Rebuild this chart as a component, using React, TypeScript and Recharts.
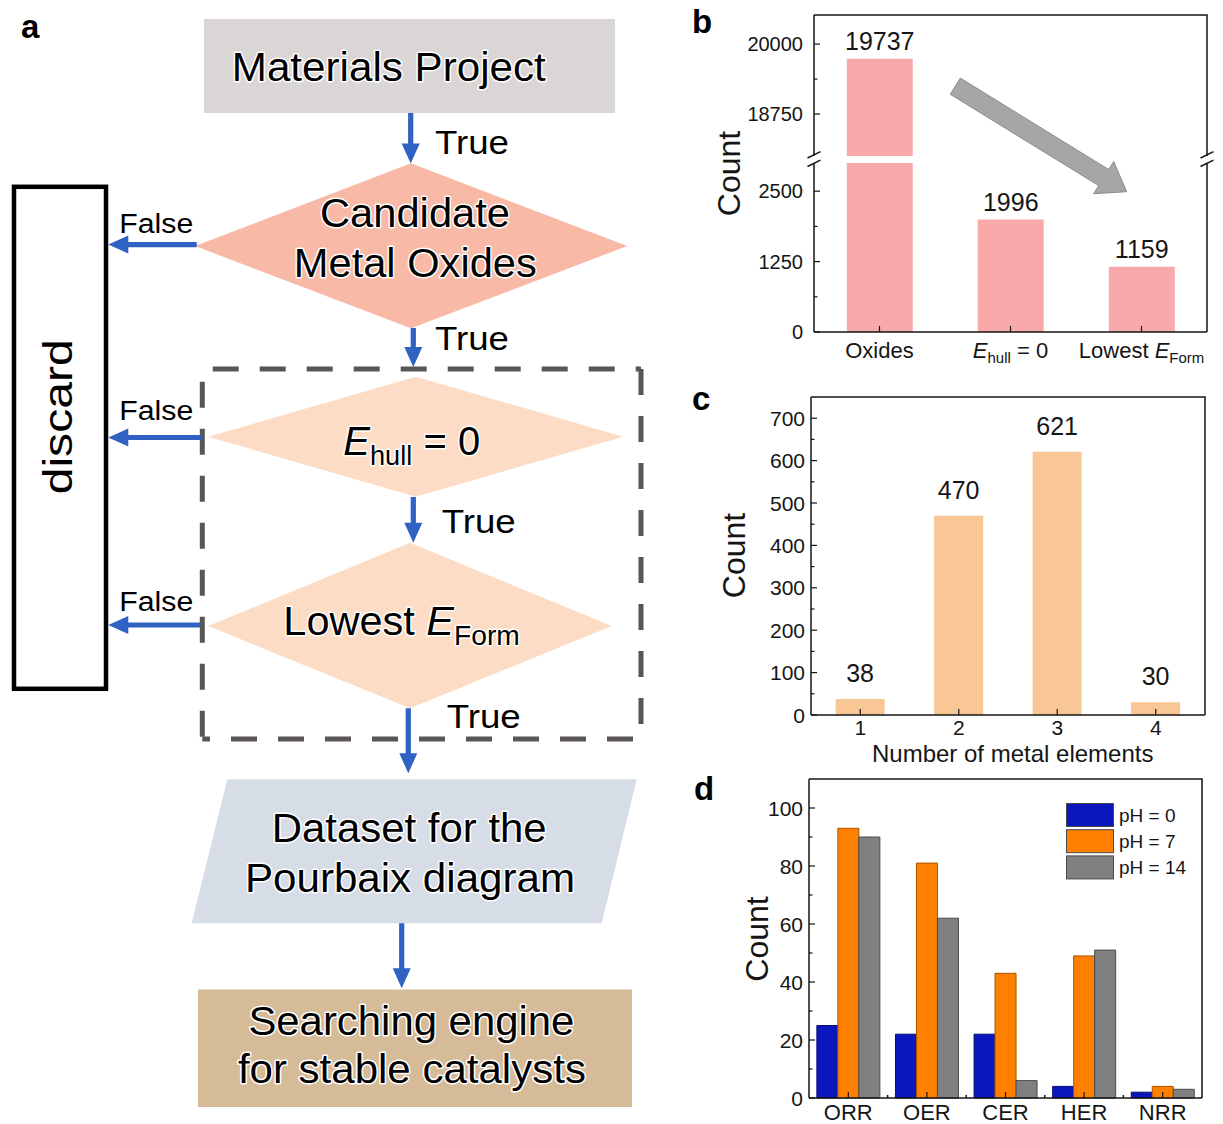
import React from 'react';
import { BarChart, Bar, XAxis, YAxis, LabelList, Legend } from 'recharts';

const FONT = '"Liberation Sans", Arial, Helvetica, sans-serif';
const INK = '#151515';

// b: screening funnel (broken y axis)
const stepNames = ['Oxides', 'E_hull = 0', 'Lowest E_Form'];
const stepCounts = [19737, 1996, 1159];
const stepUpperTicks = [18750, 19375, 20000];
const stepLowerTicks = [0, 625, 1250, 1875, 2500];
const stepMajorTicks = [0, 1250, 2500, 18750, 20000];

// c: number of metal elements
const metalNumbers = ['1', '2', '3', '4'];
const metalCounts = [38, 470, 621, 30];
const metalTicks = [0, 50, 100, 150, 200, 250, 300, 350, 400, 450, 500, 550, 600, 650, 700];
const metalMajorTicks = [0, 100, 200, 300, 400, 500, 600, 700];

// d: stable catalysts per reaction and pH
const reactions = ['ORR', 'OER', 'CER', 'HER', 'NRR'];
const countPh0 = [25, 22, 22, 4, 2];
const countPh7 = [93, 81, 43, 49, 4];
const countPh14 = [90, 62, 6, 51, 3];
const phNames = ['pH = 0', 'pH = 7', 'pH = 14'];
const reactionTicks = [0, 10, 20, 30, 40, 50, 60, 70, 80, 90, 100];
const reactionMajorTicks = [0, 20, 40, 60, 80, 100];

const stepData = stepNames.map((name, i) => ({ name, count: stepCounts[i] }));
const metalData = metalNumbers.map((n, i) => ({ n, count: metalCounts[i] }));
const reactionData = reactions.map((r, i) => ({
  r,
  ph0: countPh0[i],
  ph7: countPh7[i],
  ph14: countPh14[i],
}));

const axisLine = { stroke: INK, strokeWidth: 1.5 };

// "E_hull" -> italic E with subscript
function richLabel(label: string, size: number) {
  const m = label.match(/^(.*?)E_(\w+)(.*)$/);
  if (!m) return label;
  const d = size * 0.24;
  return [
    m[1] ? <tspan key="a">{m[1]}</tspan> : null,
    <tspan key="e" fontStyle="italic">E</tspan>,
    <tspan key="s" fontSize={size * 0.68} dy={d}>{m[2]}</tspan>,
    m[3] ? <tspan key="r" dy={-d}>{m[3]}</tspan> : null,
  ];
}

function yTick(major: number[], margin: number, fontSize: number) {
  return (p: any) => {
    const v = p.payload.value;
    const isMajor = major.includes(v);
    const ax = p.x + margin;
    return (
      <g>
        <line x1={ax} x2={ax + (isMajor ? 6 : 3.5)} y1={p.y} y2={p.y} stroke={INK} strokeWidth={1.2} />
        {isMajor ? (
          <text x={p.x} y={p.y} dy="0.36em" textAnchor="end" fontSize={fontSize} fill={INK}>
            {v}
          </text>
        ) : null}
      </g>
    );
  };
}

function xTick(fontSize: number, labelDy: number, boundaries = 0) {
  return (p: any) => {
    const band = boundaries && typeof p.width === 'number' ? p.width / boundaries : 0;
    return (
      <g>
        <line x1={p.x} x2={p.x} y1={p.y} y2={p.y - 6} stroke={INK} strokeWidth={1.2} />
        {band && p.index > 0 ? (
          <line x1={p.x - band / 2} x2={p.x - band / 2} y1={p.y} y2={p.y - 3} stroke={INK} strokeWidth={1.5} />
        ) : null}
        <text x={p.x} y={p.y + labelDy} textAnchor="middle" fontSize={fontSize} fill={INK}>
          {richLabel(String(p.payload.value), fontSize)}
        </text>
      </g>
    );
  };
}

// value label above a bar, only when the value lies in [min, max]
function topLabel(min: number, max: number, offset: number) {
  return (p: any) => {
    const v = Number(p.value);
    if (!(v >= min && v <= max)) return null;
    return (
      <text x={p.x + p.width / 2} y={p.y - offset} textAnchor="middle" fontSize={25} fill={INK}>
        {v}
      </text>
    );
  };
}

function StepChart() {
  return (
    <>
      <div style={{ position: 'absolute', left: 700, top: 0 }}>
        <BarChart width={523} height={156} data={stepData} margin={{ top: 15, right: 16, bottom: 0, left: 0 }} barCategoryGap="25%">
          <Bar dataKey="count" fill="#f8aaaa" isAnimationActive={false}>
            <LabelList dataKey="count" content={topLabel(18000, 20520, 9)} />
          </Bar>
          <XAxis dataKey="name" hide />
          <YAxis domain={[18000, 20520]} allowDataOverflow ticks={stepUpperTicks} interval={0} width={114}
            tickSize={0} tickMargin={11} tickLine={false} axisLine={axisLine} tick={yTick(stepMajorTicks, 11, 20)} />
        </BarChart>
      </div>
      <div style={{ position: 'absolute', left: 700, top: 163 }}>
        <BarChart width={523} height={212} data={stepData} margin={{ top: 0, right: 16, bottom: 0, left: 0 }} barCategoryGap="25%">
          <Bar dataKey="count" fill="#f8aaaa" isAnimationActive={false}>
            <LabelList dataKey="count" content={topLabel(0, 3000, 9)} />
          </Bar>
          <XAxis dataKey="name" height={43} interval={0} tickSize={0} tickMargin={0} tickLine={false}
            axisLine={axisLine} tick={xTick(22, 26)} />
          <YAxis domain={[0, 3000]} allowDataOverflow ticks={stepLowerTicks} interval={0} width={114}
            tickSize={0} tickMargin={11} tickLine={false} axisLine={axisLine} tick={yTick(stepMajorTicks, 11, 20)} />
        </BarChart>
      </div>
    </>
  );
}

function MetalChart() {
  return (
    <div style={{ position: 'absolute', left: 700, top: 380 }}>
      <BarChart width={520} height={390} data={metalData} margin={{ top: 17, right: 15, bottom: 0, left: 0 }} barCategoryGap="25%">
        <Bar dataKey="count" fill="#f9c695" isAnimationActive={false}>
          <LabelList dataKey="count" content={topLabel(0, 750, 17)} />
        </Bar>
        <XAxis dataKey="n" height={55} interval={0} tickSize={0} tickMargin={0} tickLine={false}
          axisLine={axisLine} tick={xTick(21, 20)} />
        <YAxis domain={[0, 750]} ticks={metalTicks} interval={0} width={111}
          tickSize={0} tickMargin={6} tickLine={false} axisLine={axisLine} tick={yTick(metalMajorTicks, 6, 21)} />
      </BarChart>
    </div>
  );
}

function PhLegend(props: any) {
  const items = [...(props.payload || [])].sort(
    (a: any, b: any) => phNames.indexOf(a.value) - phNames.indexOf(b.value),
  );
  return (
    <svg width={130} height={80}>
      {items.map((p: any, i: number) => (
        <g key={p.value} transform={`translate(0, ${i * 26.2})`}>
          <rect x={0.5} y={0.5} width={47} height={23} fill={p.color} stroke="#4a4a4a" strokeWidth={1} />
          <text x={53} y={19} fontSize={19} fill={INK} fontFamily={FONT}>{p.value}</text>
        </g>
      ))}
    </svg>
  );
}

function ReactionChart() {
  return (
    <div style={{ position: 'absolute', left: 700, top: 770 }}>
      <BarChart width={520} height={354} data={reactionData} margin={{ top: 9, right: 18, bottom: 0, left: 0 }}
        barCategoryGap="10%" barGap={0}>
        <Bar dataKey="ph0" name={phNames[0]} fill="#0a17bd" stroke="#07106e" strokeWidth={1} isAnimationActive={false} />
        <Bar dataKey="ph7" name={phNames[1]} fill="#ff8000" stroke="#a85400" strokeWidth={1} isAnimationActive={false} />
        <Bar dataKey="ph14" name={phNames[2]} fill="#808080" stroke="#4a4a4a" strokeWidth={1} isAnimationActive={false} />
        <XAxis dataKey="r" height={26} interval={0} tickSize={0} tickMargin={0} tickLine={false}
          axisLine={axisLine} tick={xTick(22, 21.5, reactions.length)} />
        <YAxis domain={[0, 110]} ticks={reactionTicks} interval={0} width={109}
          tickSize={0} tickMargin={6} tickLine={false} axisLine={axisLine} tick={yTick(reactionMajorTicks, 6, 21)} />
        <Legend layout="vertical" align="center" verticalAlign="middle" content={PhLegend}
          wrapperStyle={{ position: 'absolute', left: 366, top: 33, width: 130, height: 80 }} />
      </BarChart>
    </div>
  );
}

// block arrow outline, tail centre -> tip
function blockArrow(x1: number, y1: number, x2: number, y2: number, shaftHalf: number, headLen: number, headHalf: number) {
  const dx = x2 - x1;
  const dy = y2 - y1;
  const L = Math.hypot(dx, dy);
  const ux = dx / L, uy = dy / L, nx = -uy, ny = ux;
  const bx = x2 - ux * headLen, by = y2 - uy * headLen;
  const P = (px: number, py: number) => `${px.toFixed(1)},${py.toFixed(1)}`;
  return [
    P(x1 + nx * shaftHalf, y1 + ny * shaftHalf),
    P(bx + nx * shaftHalf, by + ny * shaftHalf),
    P(bx + nx * headHalf, by + ny * headHalf),
    P(x2, y2),
    P(bx - nx * headHalf, by - ny * headHalf),
    P(bx - nx * shaftHalf, by - ny * shaftHalf),
    P(x1 - nx * shaftHalf, y1 - ny * shaftHalf),
  ].join(' ');
}

const BLUE = '#2f62c3';
const halo = { stroke: '#fff', strokeWidth: 3, paintOrder: 'stroke' as const, strokeLinejoin: 'round' as const };

function FT({ x, y, size, len, anchor = 'middle', children }: any) {
  return (
    <text x={x} y={y} fontSize={size} textAnchor={anchor} textLength={len} lengthAdjust="spacingAndGlyphs"
      fill="#000" {...halo}>
      {children}
    </text>
  );
}

function Flowchart() {
  const dash = { stroke: '#5a5656', strokeWidth: 5, strokeDasharray: '26 21' };
  const down = [
    [410.7, 113, 163.5],
    [413.3, 328, 367],
    [413.3, 497, 542.7],
    [408.3, 708.3, 773.3],
    [401.7, 923.3, 988.3],
  ];
  const left = [
    [196.7, 244.6],
    [201.7, 437.5],
    [200, 625],
  ];
  const trueLabels = [
    [435, 154],
    [435, 350],
    [441.7, 533.3],
    [446.7, 728.3],
  ];
  const falseY = [232.9, 419.6, 610.7];
  return (
    <svg width={660} height={1124} style={{ position: 'absolute', left: 0, top: 0 }} fontFamily={FONT}>
      <text x={21} y={38} fontSize={33} fontWeight="bold" fill="#000">a</text>

      <rect x={204} y={19} width={411} height={94} fill="#dbd6d6" />
      <polygon points="411,163.3 627.3,246 411,328.3 195,246" fill="#f8b9a6" />

      <line x1={202.3} y1={369} x2={641} y2={369} {...dash} strokeDashoffset={36.6} />
      <line x1={641} y1={369} x2={641} y2={739} {...dash} />
      <line x1={202.3} y1={739} x2={641} y2={739} {...dash} strokeDashoffset={18.3} />
      <line x1={202.3} y1={369} x2={202.3} y2={739} {...dash} strokeDashoffset={34.3} />

      <polygon points="415.8,376.7 623.3,436.7 415.8,496.7 208.3,436.7" fill="#fcdcc4" />
      <polygon points="410,542.7 611.7,626 410,708.3 208.3,626" fill="#fcdcc4" />
      <polygon points="227.3,779.3 636.7,779.3 601.7,923.3 191.7,923.3" fill="#d6dde7" />
      <rect x={198} y={989.5} width={434} height={117.5} fill="#d6bb98" />

      <rect x={14} y={186.8} width={92} height={502} fill="#fff" stroke="#000" strokeWidth={4.5} />
      <text transform="translate(71.7, 416.8) rotate(-90)" fontSize={40} textAnchor="middle"
        textLength={155} lengthAdjust="spacingAndGlyphs" fill="#000">discard</text>

      {down.map(([x, a, b], i) => (
        <polygon key={'d' + i} points={blockArrow(x, a, x, b, 2.6, 20, 9)} fill={BLUE} />
      ))}
      {left.map(([x, y], i) => (
        <polygon key={'l' + i} points={blockArrow(x, y, 108.3, y, 2.6, 20, 9)} fill={BLUE} />
      ))}

      <FT x={388.8} y={81} size={40} len={314}>Materials Project</FT>
      <FT x={415} y={226.7} size={41} len={190}>Candidate</FT>
      <FT x={415.3} y={276.7} size={41} len={243}>Metal Oxides</FT>
      <text x={343.3} y={455} fontSize={40} textAnchor="start" fill="#000" {...halo}>
        {richLabel('E_hull = 0', 40)}
      </text>
      <text x={283.3} y={635} fontSize={41.5} textAnchor="start" fill="#000" {...halo}>
        {richLabel('Lowest E_Form', 41.5)}
      </text>
      <FT x={409.2} y={841.7} size={41} len={275}>Dataset for the</FT>
      <FT x={410} y={891.7} size={41} len={330}>Pourbaix diagram</FT>
      <FT x={411.4} y={1035} size={41} len={326}>Searching engine</FT>
      <FT x={411.9} y={1083.3} size={41} len={348}>for stable catalysts</FT>

      {trueLabels.map(([x, y], i) => (
        <FT key={'t' + i} x={x} y={y} size={34} len={74} anchor="start">True</FT>
      ))}
      {falseY.map((y, i) => (
        <FT key={'f' + i} x={119.3} y={y} size={27} len={74} anchor="start">False</FT>
      ))}
    </svg>
  );
}

function Overlay() {
  const brk = (x: number) => (
    <g key={x} stroke={INK} strokeWidth={1.5}>
      <line x1={x - 6.5} y1={158} x2={x + 6.5} y2={151.7} />
      <line x1={x - 6.5} y1={166.5} x2={x + 6.5} y2={160.2} />
    </g>
  );
  // plot frames (top and right edges; left and bottom come from the axes)
  const frame = { stroke: INK, strokeWidth: 1.5, fill: 'none' };
  return (
    <svg width={1223} height={1124} style={{ position: 'absolute', left: 0, top: 0, pointerEvents: 'none' }} fontFamily={FONT}>
      <text x={692} y={33.3} fontSize={33} fontWeight="bold" fill="#000">b</text>
      <text x={692} y={410} fontSize={33} fontWeight="bold" fill="#000">c</text>
      <text x={694} y={800} fontSize={33} fontWeight="bold" fill="#000">d</text>

      <polyline points="814,15 1207,15 1207,156" {...frame} />
      <line x1={1207} y1={163} x2={1207} y2={332} {...frame} />
      <polyline points="811,397 1205,397 1205,715" {...frame} />
      <polyline points="809,779 1202,779 1202,1098" {...frame} />

      <polygon points={blockArrow(955.3, 86.2, 1126.7, 191.7, 9.5, 27, 19)} fill="#a6a6a6" stroke="#8c8c8c" strokeWidth={1} />
      {brk(814)}
      {brk(1207)}

      <text transform="translate(740, 173.5) rotate(-90)" fontSize={32} textAnchor="middle" fill={INK}>Count</text>
      <text transform="translate(745, 555.5) rotate(-90)" fontSize={32} textAnchor="middle" fill={INK}>Count</text>
      <text transform="translate(768, 939) rotate(-90)" fontSize={32} textAnchor="middle" fill={INK}>Count</text>
      <text x={1012.7} y={761.7} fontSize={24} textAnchor="middle" fill={INK}>Number of metal elements</text>
    </svg>
  );
}

export default function App() {
  return (
    <div style={{ position: 'relative', width: 1223, height: 1124, background: '#fff', fontFamily: FONT, overflow: 'hidden' }}>
      <style>{'body{margin:0;background:#fff}'}</style>
      <Flowchart />
      <StepChart />
      <MetalChart />
      <ReactionChart />
      <Overlay />
    </div>
  );
}
